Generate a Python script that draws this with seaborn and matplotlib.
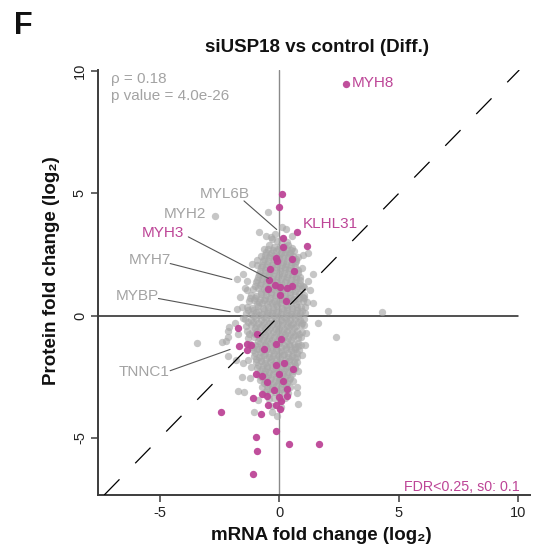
import matplotlib
matplotlib.use("Agg")
import matplotlib.pyplot as plt
import seaborn as sns
import pandas as pd

# log2 fold changes
# dense centre of the background cloud, one line per row
core_x = [
    -0.30, -0.08, 0.12, 0.31,
    -0.42, -0.22, 0.02, 0.21, 0.38, 0.55,
    -0.55, -0.34, -0.15, 0.06, 0.25, 0.43, 0.61,
    -0.63, -0.42, -0.22, -0.03, 0.17, 0.36, 0.54, 0.70,
    -0.72, -0.50, -0.31, -0.10, 0.09, 0.28, 0.47, 0.65,
    -0.80, -0.58, -0.38, -0.18, 0.02, 0.22, 0.41, 0.60, 0.78,
    -0.88, -0.67, -0.46, -0.26, -0.06, 0.14, 0.33, 0.52, 0.71, 0.88,
    -0.96, -0.75, -0.55, -0.35, -0.15, 0.05, 0.25, 0.45, 0.65, 0.85,
    -1.10, -0.88, -0.66, -0.46, -0.26, -0.06, 0.14, 0.34, 0.54, 0.74, 0.95,
    -1.20, -0.98, -0.77, -0.56, -0.36, -0.16, 0.04, 0.24, 0.44, 0.64, 0.84, 1.03,
    -1.28, -1.06, -0.84, -0.63, -0.42, -0.22, -0.02, 0.18, 0.38, 0.58, 0.78, 0.97, 1.14,
    -1.35, -1.13, -0.91, -0.69, -0.48, -0.28, -0.08, 0.12, 0.32, 0.52, 0.72, 0.91, 1.09,
    -1.40, -1.18, -0.96, -0.74, -0.53, -0.32, -0.12, 0.08, 0.28, 0.48, 0.68, 0.88, 1.06,
    -1.42, -1.20, -0.98, -0.76, -0.55, -0.34, -0.14, 0.06, 0.26, 0.46, 0.66, 0.86, 1.04,
    -1.40, -1.18, -0.96, -0.74, -0.52, -0.31, -0.10, 0.10, 0.30, 0.50, 0.70, 0.89, 1.04,
    -1.36, -1.14, -0.92, -0.70, -0.49, -0.27, -0.06, 0.14, 0.34, 0.54, 0.74, 0.94,
    -1.30, -1.08, -0.86, -0.64, -0.43, -0.22, -0.02, 0.18, 0.38, 0.58, 0.77, 0.92,
    -1.22, -1.01, -0.80, -0.60, -0.40, -0.20, 0.00, 0.20, 0.40, 0.60, 0.79, 0.90,
    -1.12, -0.92, -0.72, -0.52, -0.32, -0.12, 0.08, 0.28, 0.48, 0.67, 0.84,
    -1.05, -0.85, -0.65, -0.45, -0.25, -0.05, 0.15, 0.35, 0.55, 0.74,
    -0.98, -0.78, -0.58, -0.38, -0.18, 0.02, 0.22, 0.42, 0.61, 0.75,
    -0.92, -0.72, -0.52, -0.32, -0.12, 0.08, 0.28, 0.48, 0.66,
    -0.86, -0.66, -0.46, -0.26, -0.06, 0.14, 0.34, 0.54,
    -0.80, -0.60, -0.40, -0.20, 0.00, 0.20, 0.40, 0.56,
    -0.72, -0.52, -0.32, -0.12, 0.08, 0.28, 0.46,
    -0.60, -0.40, -0.20, 0.00, 0.20, 0.38,
    -0.45, -0.22, 0.02, 0.22,
    -0.30, 0.05,
    -0.78, -0.57, -0.36, -0.16, 0.04, 0.24, 0.44, 0.64,
    -0.95, -0.74, -0.53, -0.32, -0.12, 0.08, 0.28, 0.48, 0.68,
    -1.05, -0.84, -0.63, -0.43, -0.22, -0.02, 0.18, 0.38, 0.58, 0.78,
    -1.00, -0.80, -0.60, -0.40, -0.20, 0.00, 0.20, 0.40, 0.60,
    -0.90, -0.70, -0.50, -0.30, -0.10, 0.10, 0.30, 0.50,
]
core_y = [
    3.12, 3.05, 3.15, 3.02,
    2.88, 2.80, 2.86, 2.83, 2.90, 2.78,
    2.62, 2.57, 2.64, 2.58, 2.61, 2.55, 2.63,
    2.33, 2.38, 2.31, 2.36, 2.34, 2.39, 2.32, 2.30,
    2.08, 2.12, 2.06, 2.13, 2.09, 2.11, 2.07, 2.14,
    1.84, 1.88, 1.82, 1.87, 1.83, 1.89, 1.85, 1.81, 1.86,
    1.58, 1.62, 1.57, 1.63, 1.59, 1.61, 1.56, 1.62, 1.58, 1.60,
    1.36, 1.32, 1.38, 1.33, 1.37, 1.34, 1.39, 1.33, 1.36, 1.31,
    1.09, 1.13, 1.07, 1.12, 1.08, 1.11, 1.06, 1.12, 1.09, 1.13, 1.08,
    0.86, 0.82, 0.88, 0.83, 0.87, 0.84, 0.88, 0.82, 0.86, 0.83, 0.87, 0.84,
    0.58, 0.62, 0.57, 0.63, 0.59, 0.61, 0.57, 0.62, 0.58, 0.63, 0.59, 0.61, 0.57,
    0.36, 0.32, 0.38, 0.33, 0.37, 0.34, 0.38, 0.32, 0.36, 0.33, 0.37, 0.34, 0.36,
    0.11, 0.07, 0.13, 0.08, 0.12, 0.09, 0.13, 0.07, 0.11, 0.08, 0.12, 0.09, 0.10,
    -0.14, -0.18, -0.12, -0.17, -0.13, -0.16, -0.12, -0.18, -0.14, -0.17, -0.13, -0.16, -0.15,
    -0.41, -0.37, -0.43, -0.38, -0.42, -0.39, -0.43, -0.37, -0.41, -0.38, -0.42, -0.39, -0.40,
    -0.64, -0.68, -0.62, -0.67, -0.63, -0.66, -0.62, -0.68, -0.64, -0.67, -0.63, -0.66,
    -0.91, -0.87, -0.93, -0.88, -0.92, -0.89, -0.93, -0.87, -0.91, -0.88, -0.92, -0.89,
    -1.14, -1.18, -1.12, -1.17, -1.13, -1.16, -1.12, -1.18, -1.14, -1.17, -1.13, -1.19,
    -1.41, -1.37, -1.43, -1.38, -1.42, -1.39, -1.43, -1.37, -1.41, -1.38, -1.42,
    -1.64, -1.68, -1.62, -1.67, -1.63, -1.66, -1.62, -1.68, -1.64, -1.67,
    -1.91, -1.87, -1.93, -1.88, -1.92, -1.89, -1.93, -1.87, -1.91, -1.88,
    -2.14, -2.18, -2.12, -2.17, -2.13, -2.16, -2.12, -2.18, -2.14,
    -2.41, -2.37, -2.43, -2.38, -2.42, -2.39, -2.43, -2.37,
    -2.64, -2.68, -2.62, -2.67, -2.63, -2.66, -2.62, -2.68,
    -2.91, -2.87, -2.93, -2.88, -2.92, -2.89, -2.93,
    -3.14, -3.18, -3.12, -3.17, -3.13, -3.16,
    -3.41, -3.37, -3.43, -3.38,
    -3.69, -3.72,
    0.98, 1.02, 0.97, 1.03, 0.99, 1.01, 0.96, 1.02,
    0.47, 0.51, 0.46, 0.50, 0.48, 0.52, 0.45, 0.49, 0.47,
    -0.02, 0.02, -0.04, 0.01, -0.03, 0.00, -0.05, 0.02, -0.01, -0.03,
    -0.52, -0.48, -0.54, -0.49, -0.53, -0.50, -0.55, -0.48, -0.51,
    -1.02, -0.98, -1.04, -0.99, -1.03, -1.00, -1.05, -0.98,
]

# points filling the gaps between the rows above
fill_x = [
    -0.48, -0.28, -0.06, 0.14, 0.32, 0.50,
    -0.60, -0.40, -0.20, 0.00, 0.20, 0.40, 0.58,
    -0.68, -0.46, -0.26, -0.06, 0.14, 0.34, 0.52, 0.68,
    -0.76, -0.56, -0.36, -0.16, 0.04, 0.24, 0.44, 0.64,
    -0.84, -0.62, -0.42, -0.22, -0.02, 0.18, 0.38, 0.58, 0.78,
    -0.92, -0.72, -0.52, -0.32, -0.12, 0.08, 0.28, 0.48, 0.68, 0.86,
    -1.02, -0.80, -0.60, -0.40, -0.20, 0.00, 0.20, 0.40, 0.60, 0.80, 0.98,
    -1.22, -1.00, -0.80, -0.58, -0.38, -0.18, 0.02, 0.22, 0.42, 0.62, 0.82, 1.02,
    -1.30, -1.10, -0.88, -0.66, -0.46, -0.26, -0.06, 0.14, 0.34, 0.54, 0.74, 0.94,
    -1.32, -1.10, -0.88, -0.66, -0.44, -0.24, -0.04, 0.16, 0.36, 0.56, 0.76, 0.95,
    -1.26, -1.04, -0.82, -0.60, -0.38, -0.16, 0.04, 0.24, 0.44, 0.64, 0.84,
    -1.14, -0.94, -0.74, -0.54, -0.34, -0.14, 0.06, 0.26, 0.46, 0.66, 0.80,
    -1.02, -0.82, -0.62, -0.42, -0.22, -0.02, 0.18, 0.38, 0.58, 0.72,
    -0.96, -0.76, -0.56, -0.36, -0.16, 0.04, 0.24, 0.44, 0.64,
    -0.90, -0.70, -0.50, -0.30, -0.10, 0.10, 0.30, 0.50, 0.66,
    -0.82, -0.62, -0.42, -0.22, -0.02, 0.18, 0.38, 0.56,
    -0.76, -0.56, -0.36, -0.16, 0.04, 0.24, 0.44,
    -0.66, -0.46, -0.26, -0.06, 0.14, 0.34,
    -0.52, -0.32, -0.12, 0.08, 0.28,
]
fill_y = [
    2.72, 2.70, 2.74, 2.71, 2.73, 2.69,
    2.47, 2.49, 2.45, 2.48, 2.46, 2.50, 2.44,
    2.22, 2.24, 2.20, 2.23, 2.21, 2.25, 2.19, 2.22,
    1.97, 1.99, 1.95, 1.98, 1.96, 2.00, 1.94, 1.97,
    1.72, 1.74, 1.70, 1.73, 1.71, 1.75, 1.69, 1.72, 1.74,
    1.47, 1.49, 1.45, 1.48, 1.46, 1.50, 1.44, 1.47, 1.49, 1.45,
    1.22, 1.24, 1.20, 1.23, 1.21, 1.25, 1.19, 1.22, 1.24, 1.20, 1.23,
    0.72, 0.74, 0.70, 0.73, 0.71, 0.75, 0.69, 0.72, 0.74, 0.70, 0.73, 0.71,
    0.22, 0.24, 0.20, 0.23, 0.21, 0.25, 0.19, 0.22, 0.24, 0.20, 0.23, 0.21,
    -0.27, -0.25, -0.29, -0.26, -0.28, -0.24, -0.30, -0.27, -0.25, -0.29, -0.26, -0.28,
    -0.77, -0.75, -0.79, -0.76, -0.78, -0.74, -0.80, -0.77, -0.75, -0.79, -0.76,
    -1.27, -1.25, -1.29, -1.26, -1.28, -1.24, -1.30, -1.27, -1.25, -1.29, -1.26,
    -1.52, -1.50, -1.54, -1.51, -1.53, -1.49, -1.55, -1.52, -1.50, -1.54,
    -1.77, -1.75, -1.79, -1.76, -1.78, -1.74, -1.80, -1.77, -1.75,
    -2.02, -2.00, -2.04, -2.01, -2.03, -1.99, -2.05, -2.02, -2.00,
    -2.27, -2.25, -2.29, -2.26, -2.28, -2.24, -2.30, -2.27,
    -2.52, -2.50, -2.54, -2.51, -2.53, -2.49, -2.55,
    -2.77, -2.75, -2.79, -2.76, -2.78, -2.74,
    -3.02, -3.00, -3.04, -3.01, -3.03,
]

# scattered background proteins around the cloud
out_x = [-0.49, -2.69, -0.86, -0.57, -0.36, -0.18, 0.10, 0.28, 0.52, -0.63,
         -0.78, -0.92, -1.15, -0.92, -1.78, -1.53, -1.42, 1.21, 1.00, 0.79,
         0.94, 1.42, 1.21, 1.02, 1.28, 1.42, 2.05, 4.31, 1.60, 2.37,
         -1.36, -1.64, -1.79, -1.57, -1.52, -2.09, -2.15, -1.72, -1.85, -2.13,
         -2.24, -2.38, -3.46, -2.13, -1.81, -1.53, -1.57, -1.23, -1.74, -1.50,
         -1.06, -0.88, 0.94, 0.79, 0.73, 0.80, 0.73, -0.32, -0.08, 1.08,
         1.12, -1.30, -1.20, -1.35, 0.98]
out_y = [4.22, 4.07, 3.43, 3.26, 3.22, 3.33, 3.62, 3.56, 3.24, 2.74,
         2.45, 2.27, 2.13, 2.06, 1.49, 1.69, 1.11, 2.56, 2.47, 2.40,
         1.93, 1.72, 1.41, 1.18, 1.04, 0.52, 0.18, 0.13, -0.29, -0.89,
         1.04, 0.77, 0.27, 0.35, -0.11, -0.46, -0.64, -0.77, -0.32, -0.86,
         -1.04, -1.09, -1.13, -1.64, -1.82, -1.95, -2.50, -2.56, -3.08, -3.14,
         -3.95, -3.45, -1.61, -2.27, -2.90, -3.62, -3.15, -3.93, -4.11, -1.20,
         -0.70, -1.80, -2.10, 1.40, 0.75]

# significant proteins (FDR<0.25)
hit_x = [2.79, 0.13, 0.00, 0.73, 0.17, 1.15, 0.17, -0.14, -0.11, 0.52,
         0.62, -0.39, -0.44, -0.18, 0.03, -0.49, 0.33, 0.54, 0.03, 0.28,
         -1.72, -0.93, 0.07, -0.15, -1.70, -1.36, -1.20, -1.34, -0.66,
         -0.14, 0.18, 0.56, -0.97, -0.71, 0.00, 0.17, -0.53, 0.33, -0.21,
         -0.71, -0.53, -1.09, 0.00, 0.33, -0.49, -0.15, 0.07, 0.02, -0.77,
         -2.43, -0.15, -0.99, 0.39, 1.67, -0.92, -1.09]
hit_y = [9.45, 4.99, 4.44, 3.42, 3.19, 2.84, 2.82, 2.37, 2.22, 2.33,
         1.83, 1.89, 1.45, 1.24, 1.18, 1.07, 1.13, 1.22, 0.84, 0.60,
         -0.51, -0.77, -0.94, -1.15, -1.22, -1.17, -1.20, -1.40, -1.38,
         -2.01, -1.95, -2.18, -2.39, -2.46, -2.39, -2.66, -2.71, -2.99, -3.04,
         -3.22, -3.27, -3.37, -3.31, -3.30, -3.67, -3.64, -3.49, -3.83, -4.01,
         -3.95, -4.70, -4.97, -5.24, -5.24, -5.52, -6.47]

# gene labels: text anchor and optional leader line (from -> to)
gene_names = ["MYH8", "KLHL31", "MYL6B", "MYH2", "MYH3", "MYH7", "MYBP", "TNNC1"]
gene_hit = [True, True, False, False, True, False, False, False]
gene_tx = [3.04, 0.98, -3.35, -4.82, -5.76, -6.32, -6.83, -6.74]
gene_ty = [9.49, 3.73, 4.96, 4.17, 3.36, 2.27, 0.81, -2.29]
lead_x0 = [None, None, -1.48, None, -3.81, -4.57, -5.06, -4.57]
lead_y0 = [None, None, 4.69, None, 3.22, 2.13, 0.70, -2.25]
lead_x1 = [None, None, -0.11, None, -0.46, -1.99, -2.06, -2.06]
lead_y1 = [None, None, 3.52, None, 1.52, 1.48, 0.16, -1.38]

assert len(core_x) == len(core_y)
assert len(fill_x) == len(fill_y)
assert len(out_x) == len(out_y)
assert len(hit_x) == len(hit_y)

MAG = "#BD4597"
GREY_PT = "#A8A8A8"
GREY_TXT = "#A3A3A3"
DARK = "#3c3c3c"

sns.set_theme(style="ticks")
plt.rcParams['font.family'] = ['Liberation Sans', 'DejaVu Sans']
plt.rcParams['axes.unicode_minus'] = False

fig = plt.figure(figsize=(5.35, 5.49), dpi=100)
ax = fig.add_axes([98 / 535, 54 / 549, 432 / 535, 425 / 549])

bg = pd.DataFrame({"mrna": core_x + fill_x + out_x, "prot": core_y + fill_y + out_y})
hits = pd.DataFrame({"mrna": hit_x, "prot": hit_y})

# reference lines at 0 sit under the points, the diagonal on top
ax.axhline(0, xmax=(518 - 98) / 432, color="#222222", lw=1.1, zorder=1)
ax.axvline(0, color="#8a8a8a", lw=1.0, zorder=1)

sns.scatterplot(data=bg, x="mrna", y="prot", color=GREY_PT, alpha=0.65,
                s=28, linewidth=0, ax=ax, zorder=2)
sns.scatterplot(data=hits, x="mrna", y="prot", color=MAG, alpha=0.95,
                s=28, linewidth=0, ax=ax, zorder=3)

ax.axline((0, 0), slope=1, color="black", lw=0.9, dashes=(17.5, 18), zorder=4)

for i, name in enumerate(gene_names):
    col = MAG if gene_hit[i] else GREY_TXT
    ax.text(gene_tx[i], gene_ty[i], name, color=col, fontsize=11,
            ha="left", va="center", zorder=5)
    if lead_x0[i] is not None:
        ax.annotate("", xy=(lead_x1[i], lead_y1[i]), xytext=(lead_x0[i], lead_y0[i]),
                    arrowprops=dict(arrowstyle="-", color="#555555", lw=0.8,
                                    shrinkA=0, shrinkB=0), zorder=5)

ax.text(-7.04, 9.69, "ρ = 0.18", color=GREY_TXT, fontsize=11, va="center")
ax.text(-7.04, 8.96, "p value = 4.0e-26", color=GREY_TXT, fontsize=11, va="center")
ax.text(10.07, -7.0, "FDR<0.25, s0: 0.1", color=MAG, fontsize=10.3,
        ha="right", va="center")

ax.set_xlim(-7.59, 10.49)
ax.set_ylim(-7.33, 10.04)
ax.set_xticks([-5, 0, 5, 10])
ax.set_yticks([-5, 0, 5, 10])
ax.tick_params(direction="out", length=5, width=1.1, color=DARK,
               labelsize=10.5, pad=3, labelcolor="#222222")
ax.tick_params(axis="y", labelrotation=90)
plt.setp(ax.get_yticklabels(), va="center")

for side in ["top", "right"]:
    ax.spines[side].set_visible(False)
for side in ["left", "bottom"]:
    ax.spines[side].set_color(DARK)
    ax.spines[side].set_linewidth(1.4)

ax.set_xlabel("mRNA fold change (log₂)", fontsize=13.5, fontweight="bold", color="#111111")
ax.set_ylabel("Protein fold change (log₂)", fontsize=13.5, fontweight="bold", color="#111111")
ax.xaxis.set_label_coords(0.516, -0.075)
ax.yaxis.set_label_coords(-0.088, 0.527)

fig.text(317 / 535, 1 - 48 / 549, "siUSP18 vs control (Diff.)", fontsize=13.5,
         fontweight="bold", ha="center", va="center", color="#111111")
fig.text(14 / 535, 1 - 34 / 549, "F", fontsize=22, fontweight="bold",
         ha="left", va="baseline", color="#111111")

fig.savefig("out.png", dpi=100)
